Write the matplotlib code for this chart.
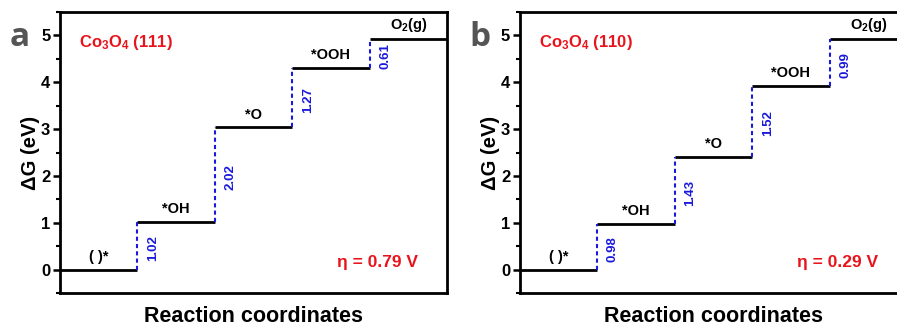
import numpy as np
import matplotlib
matplotlib.use("Agg")
import matplotlib.pyplot as plt

plt.rcParams['font.family'] = ['Liberation Sans', 'DejaVu Sans']
plt.rcParams['font.weight'] = 'bold'
plt.rcParams['axes.labelweight'] = 'bold'
plt.rcParams['mathtext.fontset'] = 'custom'
plt.rcParams['mathtext.rm'] = 'Liberation Sans:bold'
plt.rcParams['mathtext.bf'] = 'Liberation Sans:bold'
plt.rcParams['mathtext.default'] = 'bf'

# data
species = ['( )*', '*OH', '*O', '*OOH', 'O$_2$(g)']
levels_111 = [0.0, 1.02, 3.04, 4.31, 4.92]
steps_111 = ['1.02', '2.02', '1.27', '0.61']
levels_110 = [0.0, 0.98, 2.41, 3.93, 4.92]
steps_110 = ['0.98', '1.43', '1.52', '0.99']
panels = [('a', 'Co$_3$O$_4$ (111)', levels_111, steps_111, 'η = 0.79 V'),
          ('b', 'Co$_3$O$_4$ (110)', levels_110, steps_110, 'η = 0.29 V')]

red = '#e8141c'
blue = '#1a1adc'

fig = plt.figure(figsize=(8.97, 3.29), dpi=100)
lefts = [0.0669, 0.5797]

for left, (letter, title, levels, steps, eta) in zip(lefts, panels):
    ax = fig.add_axes([left, 0.1094, 0.4315, 0.8541])
    for i, g in enumerate(levels):
        ax.plot([i, i + 1], [g, g], color='black', lw=2, solid_capstyle='butt')
        ax.text(i + 0.5, g + 0.12, species[i], ha='center', va='bottom', fontsize=10.5)
    for i in range(1, len(levels)):
        ax.plot([i, i], [levels[i - 1], levels[i]], color=blue, lw=1.5, ls=(0, (2, 1.5)))
        ax.text(i + 0.2, (levels[i - 1] + levels[i]) / 2 - 0.05, steps[i - 1],
                rotation=90, ha='center', va='center', color=blue, fontsize=9.5)
    ax.text(0.25, 4.84, title, color=red, fontsize=12, ha='left', va='center')
    ax.text(4.1, 0.16, eta, color=red, fontsize=12.5, ha='center', va='center')
    ax.set_xlim(0, 5)
    ax.set_ylim(-0.5, 5.5)
    ax.set_xticks([])
    ax.set_yticks(np.arange(0, 6, 1))
    ax.set_yticks(np.arange(-0.5, 5.6, 0.5), minor=True)
    ax.tick_params(axis='y', which='major', direction='out', length=5, width=1.8, labelsize=12, pad=2)
    ax.tick_params(axis='y', which='minor', direction='out', length=3, width=1.5)
    for s in ax.spines.values():
        s.set_linewidth(2)
    ax.set_ylabel('ΔG (eV)', fontsize=14.5, labelpad=1)
    ax.set_xlabel('Reaction coordinates', fontsize=15.5, labelpad=9)
    fig.text(left - 0.045, 0.885, letter, fontsize=24, color='#555555',
             ha='center', va='center', family=['Open Sans', 'DejaVu Sans'], fontweight='bold')

fig.savefig('out.png', dpi=100)
